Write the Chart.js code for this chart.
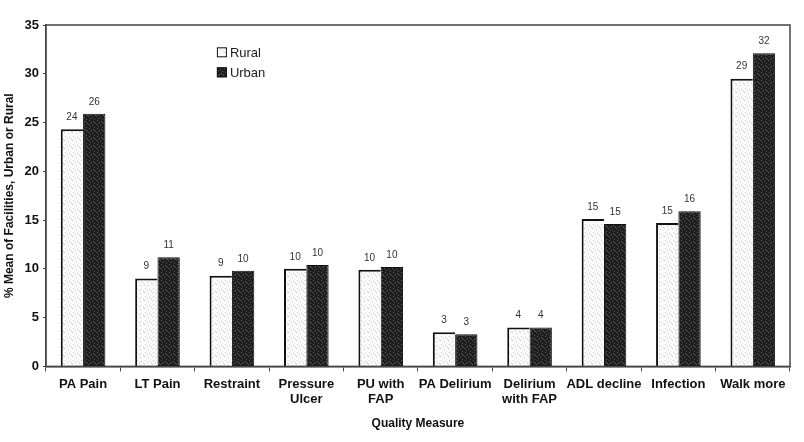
<!DOCTYPE html>
<html>
<head>
<meta charset="utf-8">
<script src="https://cdn.jsdelivr.net/npm/chart.js@4.4.1/dist/chart.umd.min.js"></script>
<style>
  html, body { margin: 0; padding: 0; background: #fff; }
  #wrap { width: 804px; height: 442px; }
</style>
</head>
<body>
<div id="wrap"><canvas id="chart" width="804" height="442"></canvas></div>
<script>
// donnees
const categories = [
    "PA Pain", "LT Pain", "Restraint", ["Pressure", "Ulcer"], ["PU with", "FAP"],
    "PA Delirium", ["Delirium", "with FAP"], "ADL decline", "Infection", "Walk more"
];
const rural = [24.3, 9.0, 9.3, 10.0, 9.9, 3.5, 4.0, 15.1, 14.7, 29.5];
const urban = [25.9, 11.2, 9.8, 10.4, 10.2, 3.3, 4.0, 14.6, 15.9, 32.1];
const ruralLabels = ["24", "9", "9", "10", "10", "3", "4", "15", "15", "29"];
const urbanLabels = ["26", "11", "10", "10", "10", "3", "4", "15", "16", "32"];
const yTicks = [0, 5, 10, 15, 20, 25, 30, 35];

// motifs pointilles pour imiter l'impression
function makePattern(bg, dot, density) {
    const c = document.createElement("canvas");
    c.width = 8; c.height = 8;
    const g = c.getContext("2d");
    g.fillStyle = bg;
    g.fillRect(0, 0, 8, 8);
    g.fillStyle = dot;
    const pts = [[1,0],[5,1],[3,2],[7,3],[0,4],[4,5],[2,6],[6,7],[6,2],[2,3]];
    for (let i = 0; i < density; i++) g.fillRect(pts[i][0], pts[i][1], 1, 1);
    return g.createPattern(c, "repeat");
}
const ctx = document.getElementById("chart").getContext("2d");
const ruralFill = makePattern("#fbfbfb", "#c8c8c8", 6);
const urbanFill = makePattern("#1e1e1e", "#5a5a5a", 10);

// cadre autour de la zone de trace
const framePlugin = {
    id: "frame",
    afterDraw(chart) {
        const a = chart.chartArea, c = chart.ctx;
        c.save();
        c.strokeStyle = "#444";
        c.lineWidth = 1.5;
        c.strokeRect(a.left, a.top, a.right - a.left, a.bottom - a.top);
        c.restore();
    }
};

// etiquettes de valeurs au-dessus des barres
const valuePlugin = {
    id: "values",
    afterDatasetsDraw(chart) {
        const c = chart.ctx;
        const lbls = [ruralLabels, urbanLabels];
        c.save();
        c.font = "10px 'Liberation Sans', Arial, sans-serif";
        c.fillStyle = "#333";
        c.textAlign = "center";
        c.textBaseline = "bottom";
        chart.data.datasets.forEach((ds, i) => {
            chart.getDatasetMeta(i).data.forEach((bar, j) => {
                c.fillText(lbls[i][j], bar.x, bar.y - 7);
            });
        });
        c.restore();
    }
};

// legende dans la zone de trace
const legendPlugin = {
    id: "legendBox",
    afterDraw(chart) {
        const c = chart.ctx;
        const x = chart.scales.x.getPixelForValue(2) - 15;
        const y0 = chart.scales.y.getPixelForValue(32.2);
        c.save();
        c.font = "13px 'Liberation Sans', Arial, sans-serif";
        c.textBaseline = "middle";
        chart.data.datasets.forEach((ds, i) => {
            const y = y0 + i * 20;
            c.fillStyle = ds.backgroundColor;
            c.fillRect(x, y - 5, 10, 10);
            c.strokeStyle = "#111";
            c.lineWidth = 1;
            c.strokeRect(x + 0.5, y - 4.5, 9, 9);
            c.fillStyle = "#222";
            c.fillText(ds.label, x + 13, y + 1);
        });
        c.restore();
    }
};

new Chart(ctx, {
    type: "bar",
    data: {
        labels: categories,
        datasets: [
            {
                label: "Rural",
                data: rural,
                backgroundColor: ruralFill,
                borderColor: "#111",
                borderWidth: { top: 2, left: 2, right: 0, bottom: 0 },
                borderSkipped: false,
                barPercentage: 1,
                categoryPercentage: 0.6
            },
            {
                label: "Urban",
                data: urban,
                backgroundColor: urbanFill,
                borderColor: "#111",
                borderWidth: 1,
                borderSkipped: false,
                barPercentage: 1,
                categoryPercentage: 0.6
            }
        ]
    },
    options: {
        responsive: false,
        animation: false,
        layout: { padding: { top: 25, right: 14, left: 2, bottom: 11 } },
        plugins: {
            legend: { display: false },
            tooltip: { enabled: false }
        },
        scales: {
            x: {
                offset: true,
                grid: { display: true, drawOnChartArea: false, offset: true, color: "#444", tickLength: 5 },
                border: { display: true, color: "#444", width: 1.5 },
                ticks: {
                    color: "#111",
                    maxRotation: 0,
                    autoSkip: false,
                    padding: 5,
                    font: { family: "'Liberation Sans', Arial, sans-serif", size: 13, weight: "bold" }
                },
                title: {
                    display: true,
                    text: "Quality Measure",
                    color: "#111",
                    padding: { top: 4, bottom: 0 },
                    font: { family: "'Liberation Sans', Arial, sans-serif", size: 12, weight: "bold" }
                }
            },
            y: {
                min: 0,
                max: 35,
                afterBuildTicks(axis) { axis.ticks = yTicks.map(v => ({ value: v })); },
                grid: { display: true, drawOnChartArea: false, color: "#444", tickLength: 3 },
                border: { display: true, color: "#444", width: 1.5 },
                ticks: {
                    color: "#111",
                    padding: 4,
                    font: { family: "'Liberation Sans', Arial, sans-serif", size: 13, weight: "bold" }
                },
                title: {
                    display: true,
                    text: "% Mean of Facilities, Urban or Rural",
                    color: "#111",
                    padding: { top: 0, bottom: 4 },
                    font: { family: "'Liberation Sans', Arial, sans-serif", size: 12, weight: "bold" }
                }
            }
        }
    },
    plugins: [framePlugin, valuePlugin, legendPlugin]
});
</script>
</body>
</html>
